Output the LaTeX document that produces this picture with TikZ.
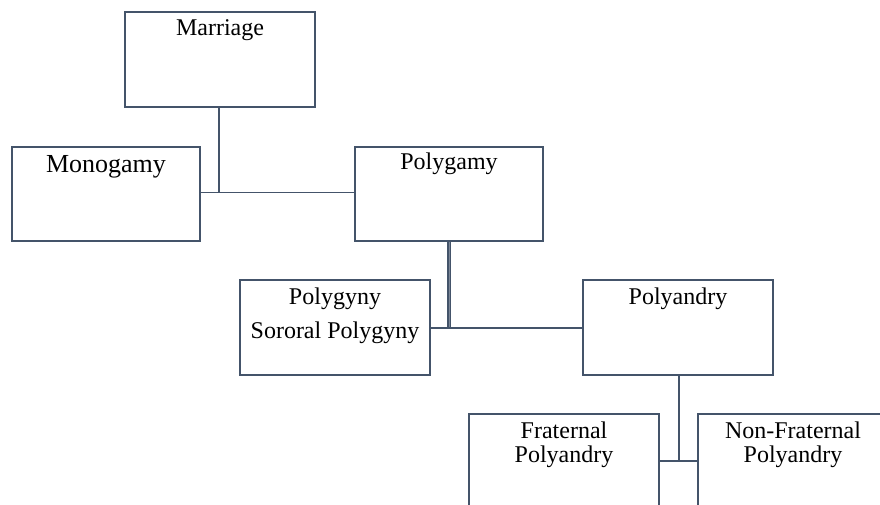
\documentclass[tikz,border=0pt]{standalone}
\usepackage{fontspec}
\setmainfont{Liberation Serif}
\definecolor{linec}{HTML}{44546A}
\begin{document}
\begin{tikzpicture}[x=1pt,y=-1pt,
  box/.style={draw=linec,line width=1.6pt,rectangle,inner sep=0pt,minimum width=190pt,minimum height=95pt},
  lbl/.style={anchor=base,inner sep=0pt,font=\fontsize{24}{28}\selectfont},
  lblbig/.style={anchor=base,inner sep=0pt,font=\fontsize{26}{30}\selectfont},
  conn/.style={draw=linec,line width=1.6pt},
  thickconn/.style={draw=linec,line width=1.3pt,double=linec!70,double distance=0.8pt}]
\useasboundingbox (0,0) rectangle (880,505);
\clip (0,0) rectangle (880,505);
% boxes
\node[box] (marriage) at (220,59.5) {};
\node[box,minimum width=188pt,minimum height=94pt] (monogamy) at (106,194) {};
\node[box,minimum width=188pt,minimum height=94pt] (polygamy) at (449,194) {};
\node[box] (polygyny) at (335,327.5) {};
\node[box] (polyandry) at (678,327.5) {};
\node[box] (fraternal) at (564,461.5) {};
\node[box] (nonfrat) at (793,461.5) {};
% labels
\node[lbl] (tmarriage) at (220,36) {Marriage};
\node[lblbig] (tmonogamy) at (106,172) {Monogamy};
\node[lbl] (tpolygamy) at (449,170) {Polygamy};
\node[lbl] (tpolygyny) at (335,304) {Polygyny};
\node[lbl] (tsororal) at (335,338) {Sororal Polygyny};
\node[lbl] (tpolyandry) at (678,304) {Polyandry};
\node[lbl] (tfrat1) at (564,438) {Fraternal};
\node[lbl] (tfrat2) at (564,462) {Polyandry};
\node[lbl] (tnon1) at (793,438) {Non-Fraternal};
\node[lbl] (tnon2) at (793,462) {Polyandry};
% connectors
\coordinate (j1) at (219,192.7);
\coordinate (j2) at (449,327.7);
\coordinate (j3) at (679,461);
\draw[conn] (marriage.south -| j1) -- (j1);
\draw[conn] (monogamy.east |- j1) -- (polygamy.west |- j1);
\draw[thickconn] (polygamy.south -| j2) -- (j2);
\draw[conn] (polygyny.east |- j2) -- (polyandry.west |- j2);
\draw[conn] (polyandry.south -| j3) -- (j3);
\draw[conn] (fraternal.east |- j3) -- (nonfrat.west |- j3);
\end{tikzpicture}
\end{document}
